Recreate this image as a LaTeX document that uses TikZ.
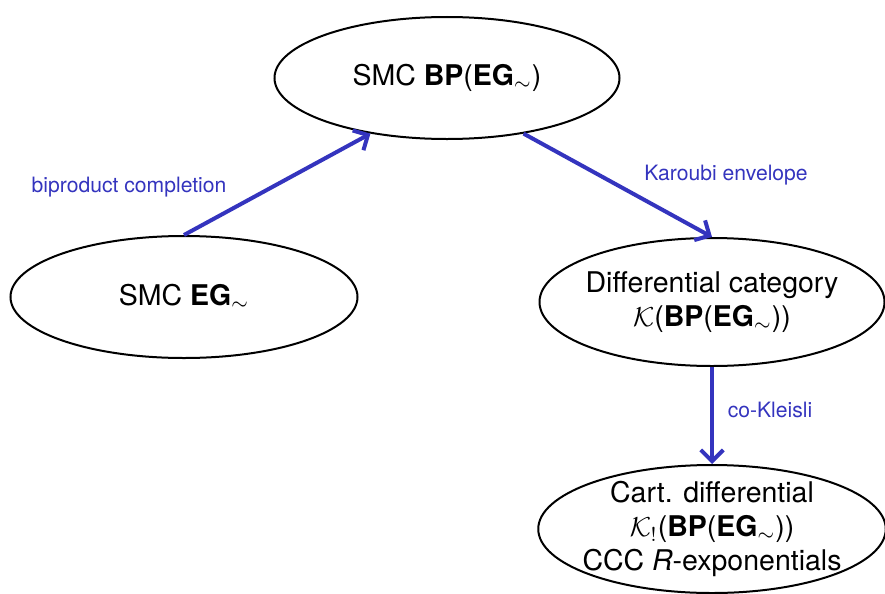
\documentclass[tikz,border=0pt]{standalone}
\usepackage{fontspec}
\setmainfont{TeX Gyre Heros}
\usetikzlibrary{shapes.geometric,arrows.meta}
\definecolor{functblue}{RGB}{52,52,190}
\tikzset{
	catnode/.style={ellipse,draw,line width=0.8pt,inner sep=0pt},
	cattext/.style={align=center,inner sep=0pt,font=\fontsize{11.4}{13.6}\selectfont},
	funct/.style={functblue,line width=1.6pt,-{Straight Barb[length=4.5pt,width=9pt]}},
	functlabel/.style={text=functblue,inner sep=0pt,font=\fontsize{8.45}{10}\selectfont}
}
\begin{document}
\begin{tikzpicture}[x=0.4pt,y=-0.4pt]
	\useasboundingbox (0,0) rectangle (885,593);

	%Shape: Ellipse [top]
	\node [catnode,minimum width=138pt,minimum height=48.8pt] (smcbp) at (447,78) {};
	\node [cattext] (smcbptext) at (smcbp) {SMC \textbf{BP}(\textbf{EG}$_\sim$)};
	%Shape: Ellipse [left]
	\node [catnode,minimum width=138.8pt,minimum height=48.8pt] (smceg) at (184,297) {};
	\node [cattext] (smcegtext) at (smceg) {SMC \textbf{EG}$_\sim$};
	%Shape: Ellipse [right]
	\node [catnode,minimum width=138pt,minimum height=51.2pt] (diffcat) at (712,302) {};
	\node [cattext] (diffcattext) at (diffcat) {Differential category\\$\mathcal{K}$(\textbf{BP}(\textbf{EG}$_\sim$))};
	%Shape: Ellipse [bottom]
	\node [catnode,minimum width=139pt,minimum height=51.2pt] (cartdiff) at (712,529) {};
	\node [cattext] (cartdifftext) at (cartdiff) {Cart. differential\\$\mathcal{K}_!$(\textbf{BP}(\textbf{EG}$_\sim$))\\CCC \textit{R}-exponentials};

	%Straight Lines
	\draw [funct] (smceg.north) -- (smcbp.216) ;
	\draw [funct] (smcbp.324) -- (diffcat.north) ;
	\draw [funct] (diffcat.south) -- (cartdiff.north) ;

	% Text Node
	\node [functlabel] (bpcomp) at (129,187) {biproduct completion};
	% Text Node
	\node [functlabel] (karoubi) at (726,175) {Karoubi envelope};
	% Text Node
	\node [functlabel] (cokleisli) at (770,410) {co-Kleisli};
\end{tikzpicture}
\end{document}
